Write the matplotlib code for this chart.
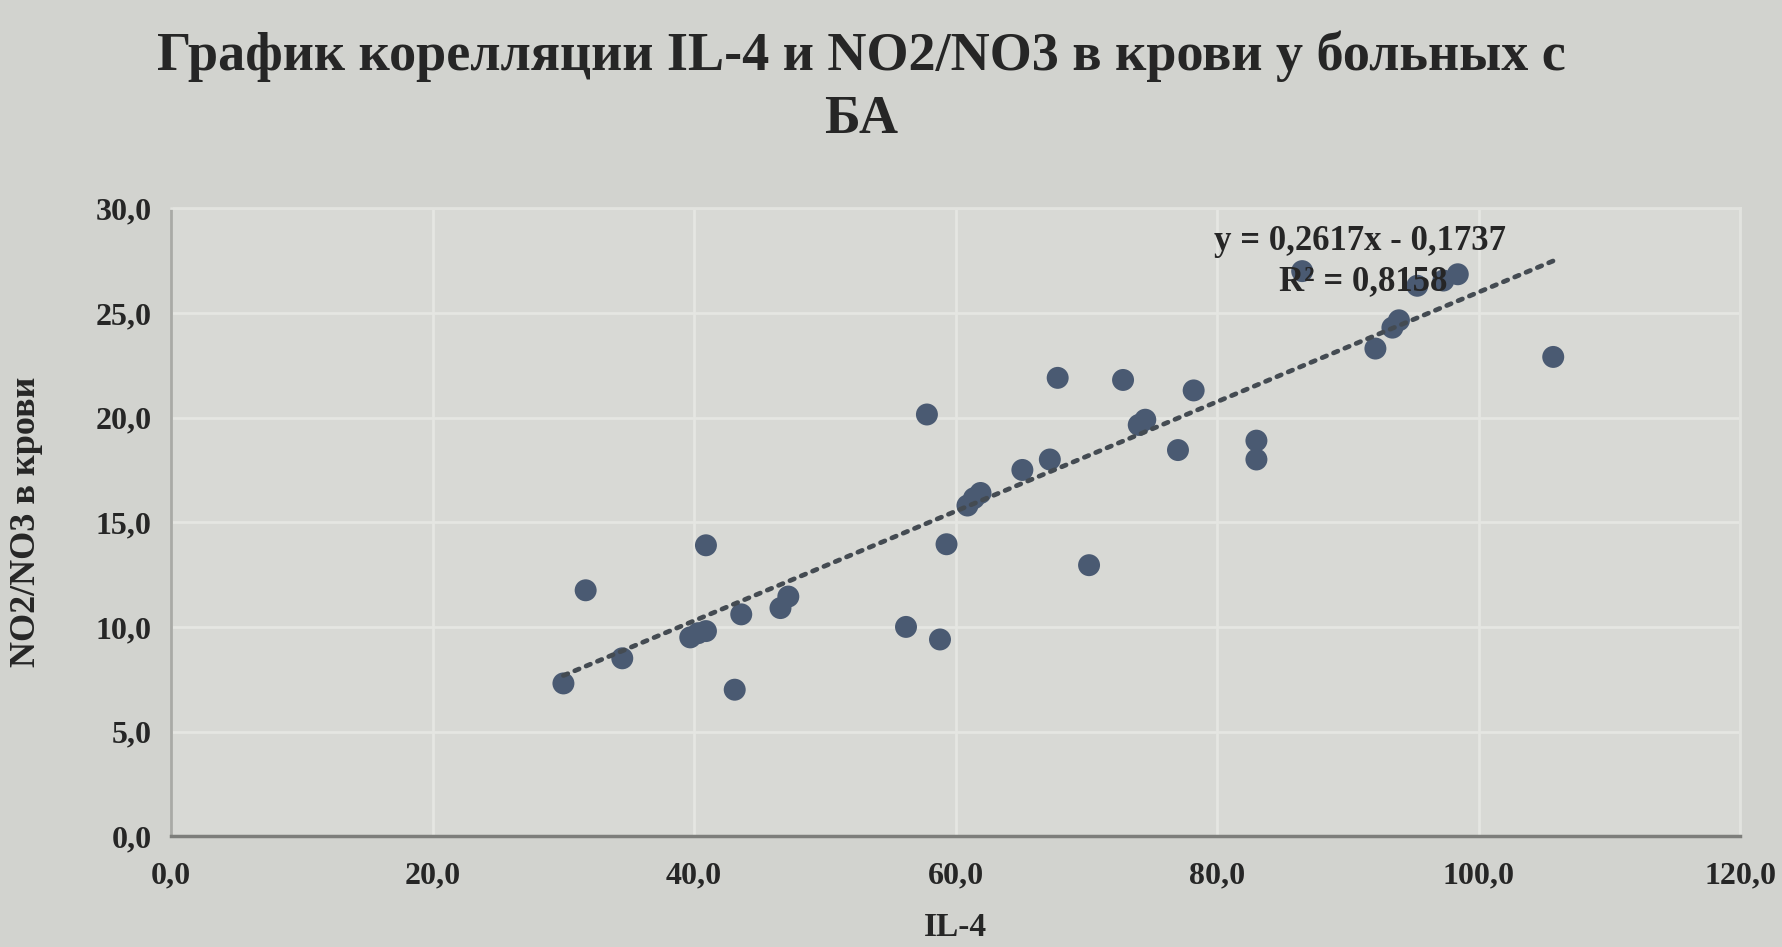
import matplotlib
matplotlib.use("Agg")
import matplotlib.pyplot as plt
import numpy as np

# IL-4 vs NO2/NO3 measurements per patient
il4 = [30.0, 31.7, 34.5, 39.7, 40.3, 40.9, 40.9, 43.1, 43.6, 46.6, 47.2,
       56.2, 57.8, 58.8, 59.3, 60.9, 61.4, 61.9, 65.1, 67.2, 67.8, 70.2,
       72.8, 74.0, 74.5, 77.0, 78.2, 83.0, 83.0, 86.5, 92.1, 93.4, 93.9,
       95.3, 97.3, 98.4, 105.7]
no2no3 = [7.3, 11.75, 8.5, 9.5, 9.7, 9.8, 13.9, 7.0, 10.6, 10.9, 11.45,
          10.0, 20.15, 9.4, 13.95, 15.8, 16.15, 16.4, 17.5, 18.0, 21.9, 12.95,
          21.8, 19.65, 19.9, 18.45, 21.3, 18.9, 18.0, 27.0, 23.3, 24.3, 24.65,
          26.3, 26.55, 26.85, 22.9]

# Linear trend coefficients as printed on the chart
slope = 0.2617
intercept = -0.1737
r_squared = 0.8158

x_ticks = [0, 20, 40, 60, 80, 100, 120]
y_ticks = [0, 5, 10, 15, 20, 25, 30]

title_text = "График корелляции IL-4 и NO2/NO3 в крови у больных с\nБА"
x_label = "IL-4"
y_label = "NO2/NO3 в крови"


def fmt(v):
    return f"{v:.1f}".replace(".", ",")


def fmt4(v):
    return f"{abs(v):.4f}".replace(".", ",")


plt.rcParams["font.family"] = ["Liberation Serif", "DejaVu Serif"]

BG = "#d2d3cf"
PLOT_BG = "#d8d9d5"
TEXT = "#262626"
MARKER = "#4a5a72"

fig = plt.figure(figsize=(17.83, 9.47), dpi=100, facecolor=BG)
ax = fig.add_axes([0.096, 0.117, 0.880, 0.663], facecolor=PLOT_BG)

ax.scatter(il4, no2no3, s=250, color=MARKER, edgecolors="none", zorder=3)

xs = np.array([min(il4), max(il4)])
ax.plot(xs, slope * xs + intercept, linestyle=(0, (1, 1.6)), linewidth=3.4,
        color="#444b52", dash_capstyle="round", zorder=4)

ax.set_xlim(0, 120)
ax.set_ylim(0, 30)
ax.set_xticks(x_ticks)
ax.set_yticks(y_ticks)
ax.set_xticklabels([fmt(v) for v in x_ticks])
ax.set_yticklabels([fmt(v) for v in y_ticks])
ax.tick_params(axis="both", length=0, labelsize=23, labelcolor=TEXT)
ax.tick_params(axis="x", pad=18)
ax.tick_params(axis="y", pad=14)
for lbl in ax.get_xticklabels() + ax.get_yticklabels():
    lbl.set_fontweight("bold")

ax.grid(True, color="#e5e6e2", linewidth=2.0, zorder=0)
ax.set_axisbelow(True)
for side in ("top", "right"):
    ax.spines[side].set_color("#e2e3df")
    ax.spines[side].set_linewidth(2)
ax.spines["left"].set_color("#a9aaa6")
ax.spines["left"].set_linewidth(2)
ax.spines["bottom"].set_color("#7d7e7b")
ax.spines["bottom"].set_linewidth(2.5)

ax.set_xlabel(x_label, fontsize=24, color=TEXT, fontweight="bold", labelpad=16)
ax.set_ylabel(y_label, fontsize=26, color=TEXT, fontweight="bold", labelpad=38)

sign = "-" if intercept < 0 else "+"
ax.text(90.9, 28.4, f"y = {fmt4(slope)}x {sign} {fmt4(intercept)}",
        fontsize=25, fontweight="bold", color=TEXT, ha="center", va="center",
        zorder=5)
ax.text(91.2, 26.5, f"R² = {fmt4(r_squared)}",
        fontsize=25, fontweight="bold", color=TEXT, ha="center", va="center",
        zorder=5)

fig.text(0.483, 0.968, title_text, fontsize=39, fontweight="bold", color=TEXT,
         ha="center", va="top", linespacing=1.35)

fig.savefig("out.png", dpi=100, facecolor=BG)
